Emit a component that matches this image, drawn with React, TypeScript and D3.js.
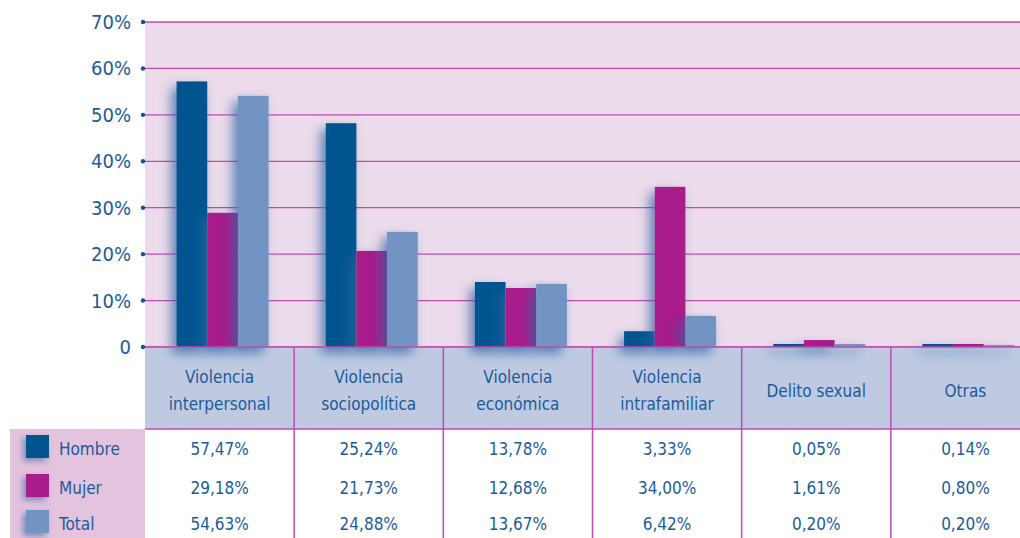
import React from 'react';
import * as d3 from 'd3';

const categories = [
  ['Violencia', 'interpersonal'],
  ['Violencia', 'sociopolítica'],
  ['Violencia', 'económica'],
  ['Violencia', 'intrafamiliar'],
  ['Delito sexual'],
  ['Otras'],
];
const seriesNames = ['Hombre', 'Mujer', 'Total'];
const seriesColors = ['#00548f', '#a81e8c', '#7294c2'];

// bar heights as drawn in the picture
const hombreBars = [57.2, 48.2, 14.0, 3.4, 0.65, 0.65];
const mujerBars = [28.9, 20.7, 12.7, 34.5, 1.5, 0.65];
const totalBars = [54.1, 24.8, 13.6, 6.7, 0.65, 0.45];

// printed values in the table
const hombreLabels = ['57,47%', '25,24%', '13,78%', '3,33%', '0,05%', '0,14%'];
const mujerLabels = ['29,18%', '21,73%', '12,68%', '34,00%', '1,61%', '0,80%'];
const totalLabels = ['54,63%', '24,88%', '13,67%', '6,42%', '0,20%', '0,20%'];

const yTicks = [0, 10, 20, 30, 40, 50, 60, 70];

const W = 1020;
const H = 538;
const plotLeft = 145;
const plotRight = 1040;
const plotTop = 22;
const plotBottom = 347;
const catBottom = 429;
const textBlue = '#1b5c98';
const gridPink = '#c24ab0';
const font = '"Liberation Sans Narrow", "DejaVu Sans Condensed", sans-serif';

export default function App() {
  const bars = [hombreBars, mujerBars, totalBars];
  const labels = [hombreLabels, mujerLabels, totalLabels];
  const idx = categories.map((_, i) => i);

  const x = d3.scaleBand<number>().domain(idx).range([plotLeft, plotRight]).paddingInner(0);
  const groupW = 92;
  const x1 = d3.scaleBand<number>().domain([0, 1, 2]).range([0, groupW]).padding(0);
  const y = d3.scaleLinear().domain([0, 70]).range([plotBottom, plotTop]);

  const rowY = [455, 494, 530];

  return (
    <svg width={W} height={H} style={{ position: 'absolute', left: 0, top: 0, background: '#fff' }}>
      <defs>
        <filter id="shadow" filterUnits="userSpaceOnUse" x={0} y={0} width={W} height={H}>
          <feDropShadow dx={-5} dy={6} stdDeviation={6} floodColor="#2f63a3" floodOpacity={0.75} />
        </filter>
        <filter id="swShadow" filterUnits="userSpaceOnUse" x={0} y={0} width={W} height={H}>
          <feDropShadow dx={-3} dy={3} stdDeviation={3} floodColor="#2f63a3" floodOpacity={0.6} />
        </filter>
      </defs>

      {/* plot background */}
      <rect x={plotLeft} y={plotTop} width={W - plotLeft} height={plotBottom - plotTop} fill="#ecdbea" />

      {/* gridlines */}
      {yTicks.map(t => (
        <line key={t} x1={plotLeft} x2={W} y1={y(t)} y2={y(t)} stroke={gridPink} strokeWidth={1.3} />
      ))}

      {/* y ticks */}
      {yTicks.map(t => (
        <g key={'t' + t}>
          <circle cx={plotLeft - 2} cy={y(t)} r={2.2} fill="#0d5597" />
          <text x={plotLeft - 14} y={y(t)} dy="0.35em" textAnchor="end" fontFamily={font}
            fontSize={20} fill={textBlue}>{t === 0 ? '0' : t + '%'}</text>
        </g>
      ))}

      {/* category band */}
      <rect x={plotLeft} y={plotBottom} width={W - plotLeft} height={catBottom - plotBottom} fill="#bfcae2" />

      {/* table body and legend cell */}
      <rect x={plotLeft} y={catBottom} width={W - plotLeft} height={H - catBottom} fill="#fff" />
      <rect x={10} y={catBottom} width={plotLeft - 10} height={H - catBottom} fill="#e3c3dd" />

      {/* bars */}
      {bars.map((vals, s) => (
        <g key={s} filter="url(#shadow)">
          {vals.map((v, i) => (
            <rect key={i}
              x={(x(i) as number) + x.bandwidth() / 2 - groupW / 2 + 3 + (x1(s) as number)}
              y={y(v)} width={x1.bandwidth()} height={y(0) - y(v)} fill={seriesColors[s]} />
          ))}
        </g>
      ))}

      {/* lines of category band and table */}
      <line x1={plotLeft} x2={W} y1={plotBottom} y2={plotBottom} stroke={gridPink} strokeWidth={1.5} />
      <line x1={plotLeft} x2={W} y1={catBottom} y2={catBottom} stroke={gridPink} strokeWidth={1.5} />
      {idx.slice(1).map(i => (
        <line key={i} x1={x(i)} x2={x(i)} y1={plotBottom} y2={H} stroke={gridPink} strokeWidth={1.5} />
      ))}

      {/* category labels */}
      {categories.map((c, i) => {
        const cx = (x(i) as number) + x.bandwidth() / 2;
        const cy = (plotBottom + catBottom) / 2 + 3;
        return (
          <text key={i} x={cx} textAnchor="middle" fontFamily={font} fontSize={17} fill={textBlue}>
            {c.map((line, k) => (
              <tspan key={k} x={cx} y={cy + (k - (c.length - 1) / 2) * 27} dy="0.35em">{line}</tspan>
            ))}
          </text>
        );
      })}

      {/* legend */}
      {seriesNames.map((n, s) => (
        <g key={n}>
          <rect x={26} y={rowY[s] - 20} width={23} height={23} fill={seriesColors[s]} filter="url(#swShadow)" />
          <text x={59} y={rowY[s]} fontFamily={font} fontSize={17} fill={textBlue}>{n}</text>
        </g>
      ))}

      {/* table values */}
      {labels.map((row, s) => row.map((lab, i) => (
        <text key={s + '-' + i} x={(x(i) as number) + x.bandwidth() / 2} y={rowY[s]} textAnchor="middle"
          fontFamily={font} fontSize={17} fill={textBlue}>{lab}</text>
      )))}
    </svg>
  );
}
